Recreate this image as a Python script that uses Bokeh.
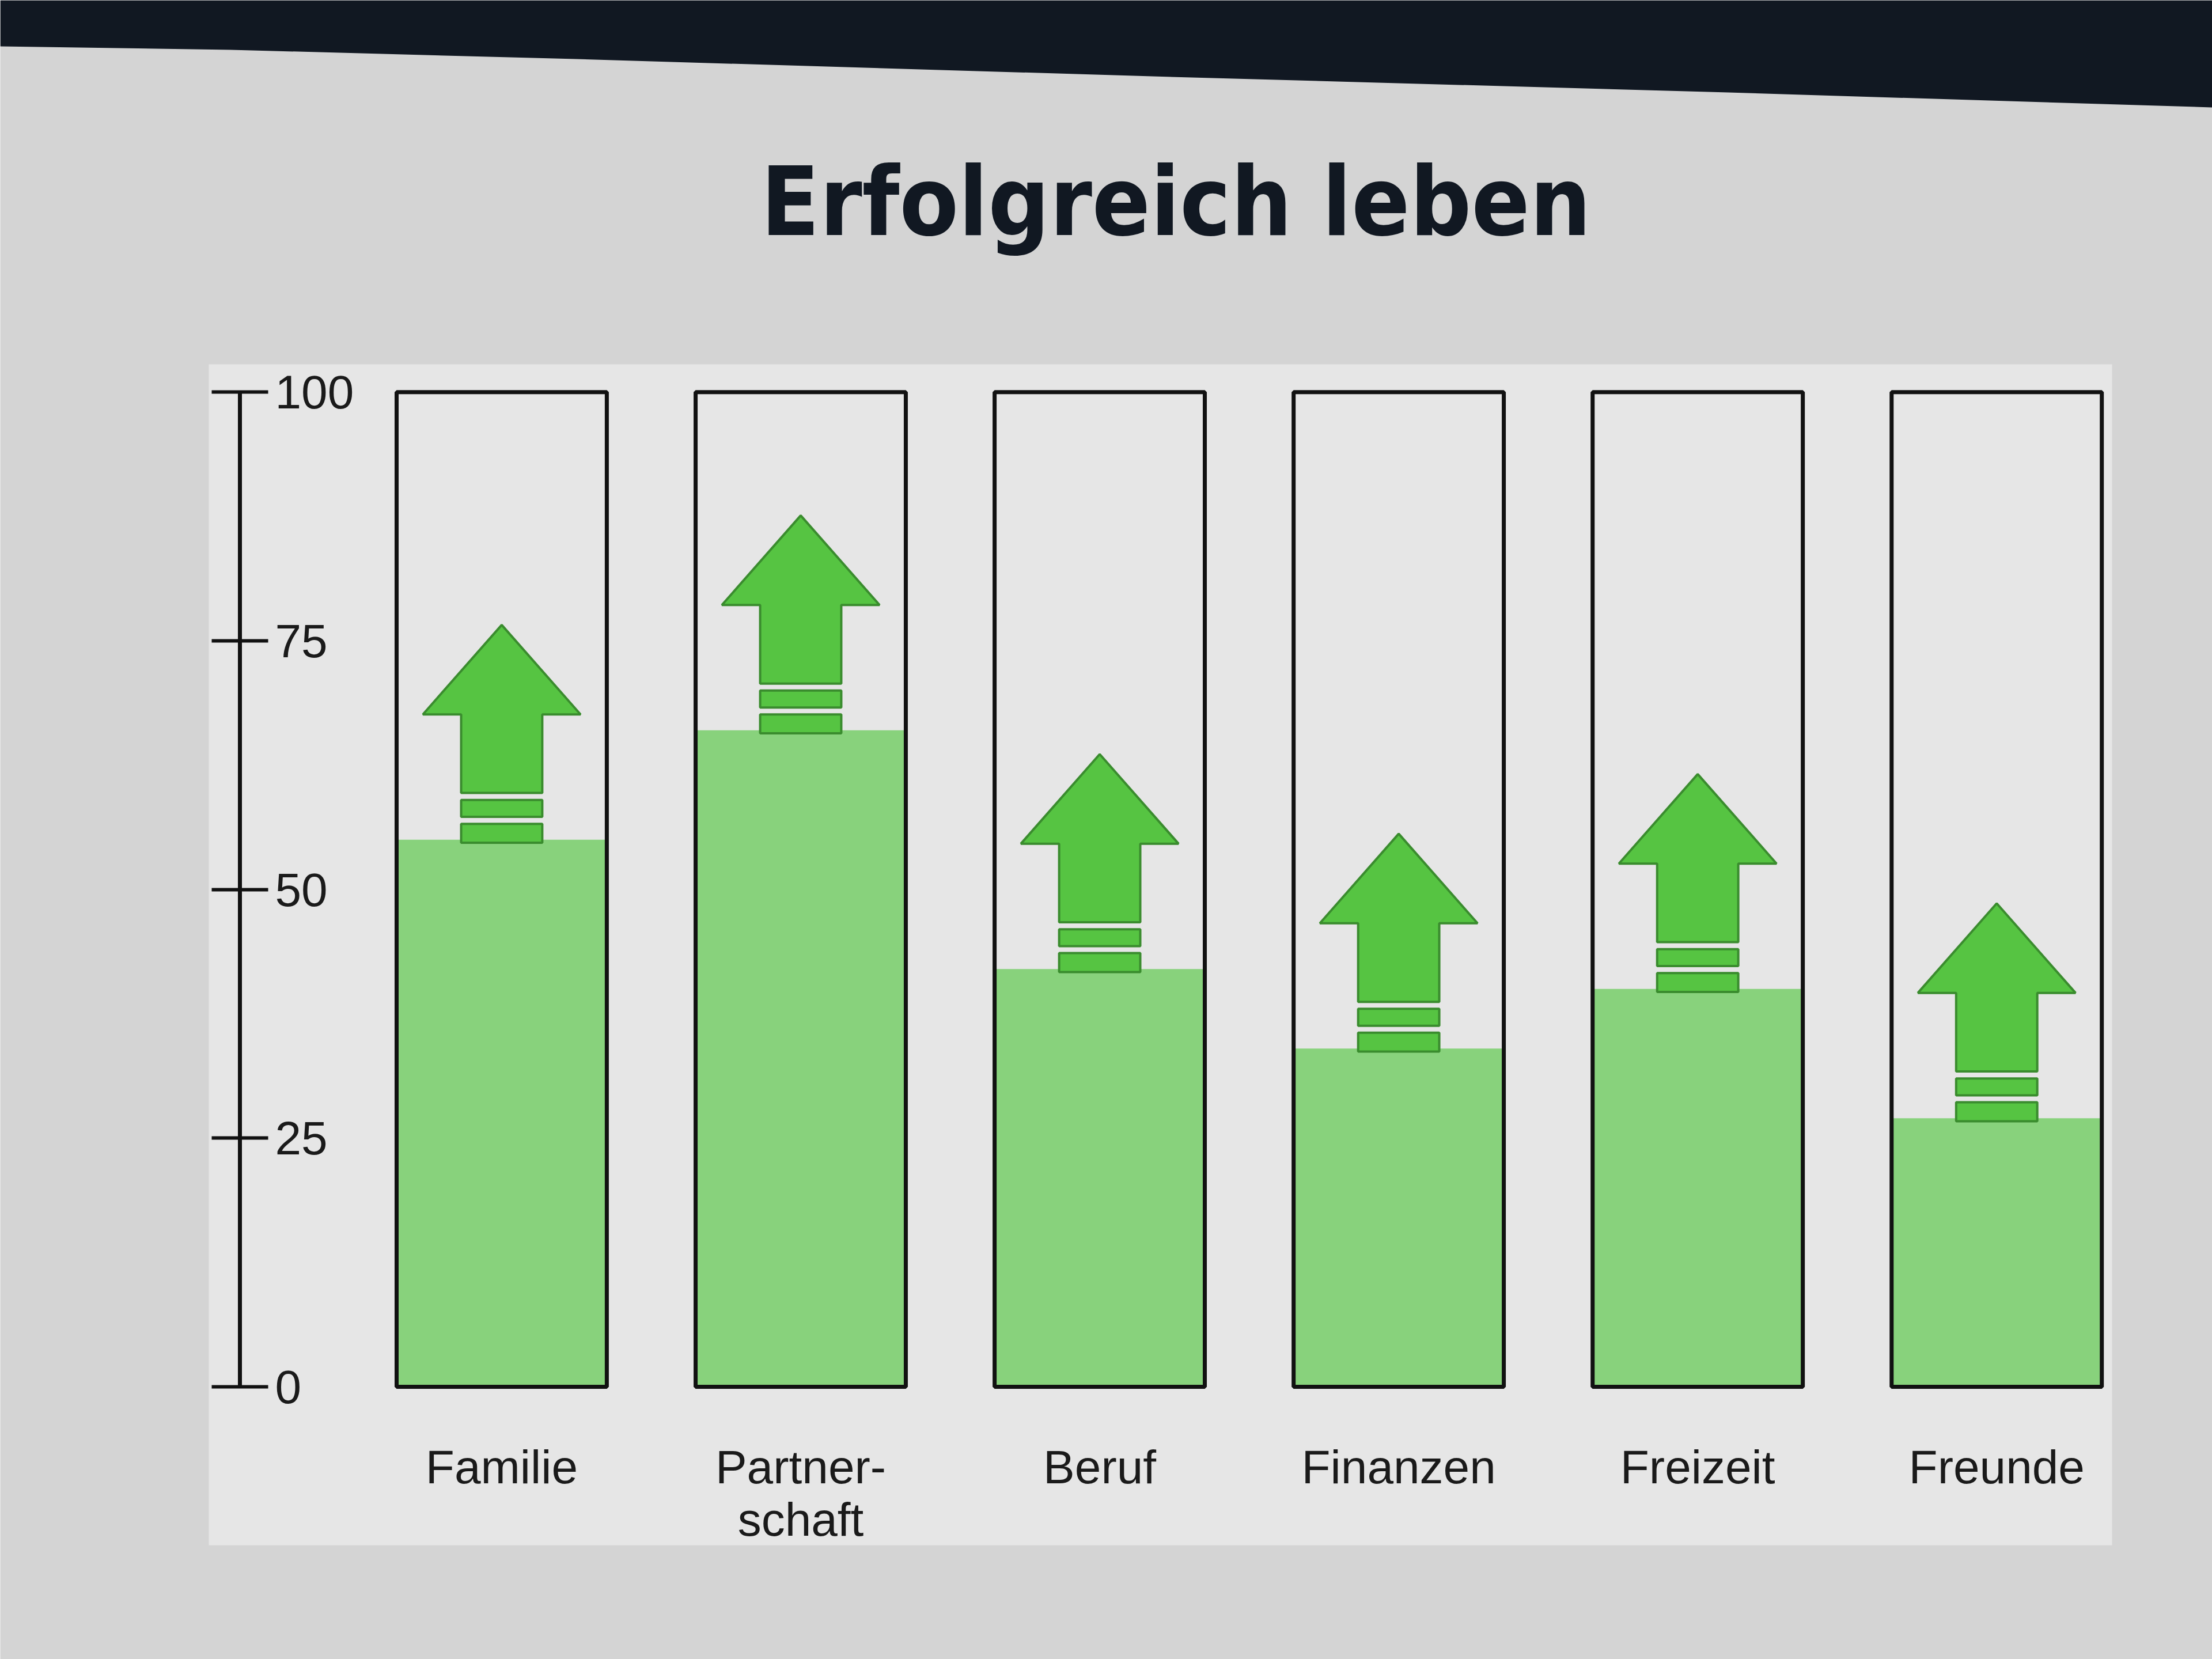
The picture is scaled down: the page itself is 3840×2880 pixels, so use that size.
from bokeh.plotting import figure
from bokeh.models import Range1d, LinearAxis, FixedTicker, Label
from bokeh.embed import file_html
from bokeh.resources import INLINE

# ---- data ----
categories = ["Familie", "Partner-\nschaft", "Beruf", "Finanzen", "Freizeit", "Freunde"]
values = [55, 66, 42, 34, 40, 27]
scale_max = [100, 100, 100, 100, 100, 100]
y_ticks = [0, 25, 50, 75, 100]
title_text = "Erfolgreich leben"

# ---- canvas / scale setup ----
W, H = 3840, 2880
X0, X1 = -1.677, 5.721
Y0, Y1 = -27.4, 139.4


def sx(px):
    return X0 + px * (X1 - X0) / W


def sy(py):
    return Y1 - py * (Y1 - Y0) / H


p = figure(width=W, height=H, x_range=Range1d(X0, X1), y_range=Range1d(Y0, Y1),
           x_axis_type=None, y_axis_type=None, toolbar_location=None,
           output_backend="svg", min_border=0)
p.outline_line_color = None
p.background_fill_color = "#d4d4d4"
p.border_fill_color = "#d4d4d4"

# monitor bezel at top of the photo
band_px = [0, 400, 1000, 2000, 3000, 3840, 3840, 0]
band_py = [80, 86, 102, 132, 160, 186, 0, 0]
p.patch([sx(v) for v in band_px], [sy(v) for v in band_py],
        fill_color="#111822", line_color=None)

# lighter chart area
p.quad(left=sx(362), right=sx(3666), top=sy(632), bottom=sy(2682),
       fill_color="#e6e6e6", line_color=None)

xs = list(range(len(categories)))
bar_w = 0.703

# green fill levels
p.vbar(x=xs, top=values, bottom=0, width=bar_w, fill_color="#88d27c", line_color=None)

# arrows
head_hw = 0.75 * bar_w / 2
shaft_hw = 0.386 * bar_w / 2
arrow_xs, arrow_ys = [], []
s_left, s_right, s_bottom, s_top = [], [], [], []
for x, v in zip(xs, values):
    arrow_xs.append([x - shaft_hw, x - shaft_hw, x - head_hw, x, x + head_hw, x + shaft_hw, x + shaft_hw])
    arrow_ys.append([v + 4.7, v + 12.6, v + 12.6, v + 21.6, v + 12.6, v + 12.6, v + 4.7])
    for b, t in ((v - 0.3, v + 1.6), (v + 2.3, v + 4.0)):
        s_left.append(x - shaft_hw)
        s_right.append(x + shaft_hw)
        s_bottom.append(b)
        s_top.append(t)

p.patches(arrow_xs, arrow_ys, fill_color="#56c442", line_color="#3a8c2e", line_width=4)
p.quad(left=s_left, right=s_right, bottom=s_bottom, top=s_top,
       fill_color="#56c442", line_color="#3a8c2e", line_width=4)

# bar frames
p.vbar(x=xs, top=scale_max, bottom=0, width=bar_w, fill_color=None,
       line_color="#111111", line_width=7)

# y axis (scale bar with labels on its right)
yaxis = LinearAxis(fixed_location=sx(416), bounds=(0, 100),
                   ticker=FixedTicker(ticks=y_ticks),
                   major_tick_in=49, major_tick_out=49,
                   major_tick_line_width=6, major_tick_line_color="#111111",
                   minor_tick_line_color=None,
                   axis_line_width=7, axis_line_color="#111111",
                   major_label_standoff=12,
                   major_label_text_font="Liberation Sans",
                   major_label_text_font_size="82px",
                   major_label_text_color="#1a1a1a")
p.add_layout(yaxis, "right")

# category labels
xaxis = LinearAxis(fixed_location=0, ticker=FixedTicker(ticks=xs),
                   major_label_overrides={i: c for i, c in zip(xs, categories)},
                   axis_line_color=None, major_tick_line_color=None,
                   minor_tick_line_color=None,
                   major_label_standoff=88,
                   major_label_text_font="Liberation Sans",
                   major_label_text_font_size="82px",
                   major_label_text_line_height=1.0,
                   major_label_text_color="#1a1a1a")
p.add_layout(xaxis, "below")

# title
p.add_layout(Label(x=sx(2041), y=sy(350), text=title_text,
                   text_font="DejaVu Sans Condensed", text_font_style="bold",
                   text_font_size="166px", text_align="center",
                   text_baseline="alphabetic", text_color="#111822"))

open("out.html", "w").write(file_html(p, INLINE))
